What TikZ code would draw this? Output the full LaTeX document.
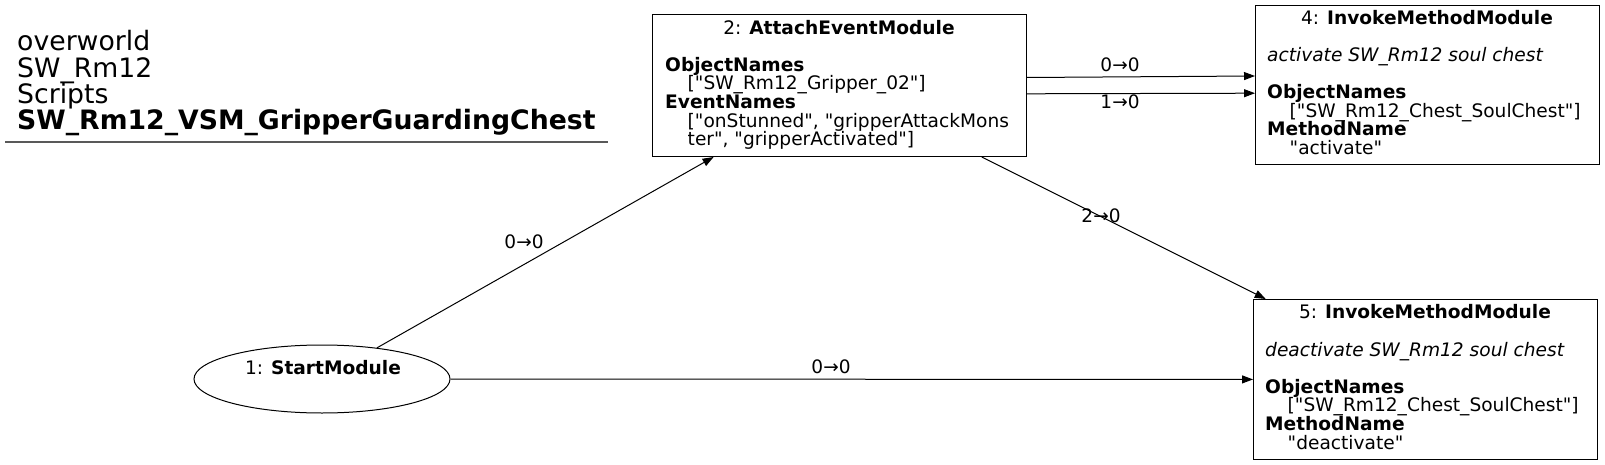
\documentclass[tikz,border=0pt]{standalone}
\usepackage{fontspec}
\setmainfont{DejaVu Sans}
\newfontfamily\dv{DejaVu Sans}
\usetikzlibrary{shapes.geometric,arrows.meta}
\begin{document}
\begin{tikzpicture}[x=1pt,y=-1pt,
  box/.style={draw, line width=1pt, inner sep=0pt, anchor=north west},
  lbl/.style={inner sep=0pt, font=\dv\fontsize{18.5}{19}\selectfont},
  txt/.style={inner sep=0pt, anchor=base west, font=\dv\fontsize{18.6}{18.6}\selectfont},
  ttl/.style={inner sep=0pt, anchor=base west, font=\dv\fontsize{26.7}{26.7}\selectfont},
  ind/.style={txt, xshift=22.5pt},
  conn/.style={draw, line width=1pt, -{Triangle[length=11pt,width=8pt]}},
]
\useasboundingbox (0,0) rectangle (1605,465);

% title
\node[ttl] (t1) at (17,50.8) {overworld};
\node[ttl] (t2) at (17,77.1) {SW\_Rm12};
\node[ttl] (t3) at (17,103.4) {Scripts};
\node[ttl] (t4) at (17,129.7) {\textbf{SW\_Rm12\_VSM\_GripperGuardingChest}};
\draw[line width=1.3pt, black!65] (5,142) -- (608,142);

% node 1
\node[draw, ellipse, line width=1pt, minimum width=256pt, minimum height=68pt, inner sep=0pt] (n1) at (322,379) {};
\node[txt, anchor=base] (n1t) at (323,374) {1: \textbf{StartModule}};

% node 2
\node[box, minimum width=374pt, minimum height=142pt] (n2) at (652,14) {};
\node[txt, anchor=base] (n2t) at (839,34.5) {2: \textbf{AttachEventModule}};
\node[txt] (n2a) at (665,71.2) {\textbf{ObjectNames}};
\node[ind] (n2b) at (665,89.9) {["SW\_Rm12\_Gripper\_02"]};
\node[txt] (n2c) at (665,108.6) {\textbf{EventNames}};
\node[ind] (n2d) at (665,127.3) {["onStunned", "gripperAttackMons};
\node[ind] (n2e) at (665,146) {ter", "gripperActivated"]};

% node 4
\node[box, minimum width=344pt, minimum height=159pt] (n4) at (1255,5) {};
\node[txt, anchor=base] (n4t) at (1427,24.5) {4: \textbf{InvokeMethodModule}};
\node[txt] (n4a) at (1267,62) {\textit{activate SW\_Rm12 soul chest}};
\node[txt] (n4b) at (1267,99) {\textbf{ObjectNames}};
\node[ind] (n4c) at (1267,117.5) {["SW\_Rm12\_Chest\_SoulChest"]};
\node[txt] (n4d) at (1267,136) {\textbf{MethodName}};
\node[ind] (n4e) at (1267,154.5) {"activate"};

% node 5
\node[box, minimum width=344pt, minimum height=160pt] (n5) at (1253,299) {};
\node[txt, anchor=base] (n5t) at (1425,318) {5: \textbf{InvokeMethodModule}};
\node[txt] (n5a) at (1265,356) {\textit{deactivate SW\_Rm12 soul chest}};
\node[txt] (n5b) at (1265,393.2) {\textbf{ObjectNames}};
\node[ind] (n5c) at (1265,411.8) {["SW\_Rm12\_Chest\_SoulChest"]};
\node[txt] (n5d) at (1265,430.4) {\textbf{MethodName}};
\node[ind] (n5e) at (1265,449) {"deactivate"};

% connectors
\draw[conn] (n1) -- (n2);
\draw[conn] (n1) -- (n5);
\draw[conn] (n2) -- (n5);
\draw[conn] ([yshift=8pt]n2.east) -- ([yshift=9pt]n4.west);
\draw[conn] ([yshift=-8.3pt]n2.east) -- ([yshift=-8.2pt]n4.west);

% labels
\node[lbl] (l12) at (524,242) {0→0};
\node[lbl] (l15) at (831,366.5) {0→0};
\node[lbl] (l24a) at (1120,65) {0→0};
\node[lbl] (l24b) at (1120,102) {1→0};
\node[lbl] (l25) at (1101,216) {2→0};
\end{tikzpicture}
\end{document}
